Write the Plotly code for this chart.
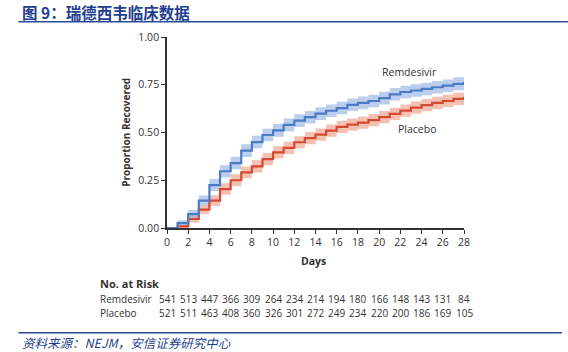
import plotly.graph_objects as go

days = list(range(0, 29))
remdesivir = [0, 0.026, 0.073, 0.143, 0.225, 0.297, 0.34, 0.405, 0.45, 0.487, 0.511, 0.54, 0.562, 0.58,
              0.599, 0.614, 0.628, 0.645, 0.655, 0.665, 0.68, 0.70, 0.712, 0.72, 0.728, 0.737, 0.745, 0.755, 0.764]
rem_lo = [0, 0.012, 0.052, 0.116, 0.194, 0.265, 0.307, 0.372, 0.417, 0.454, 0.478, 0.507, 0.529, 0.547,
          0.566, 0.581, 0.595, 0.612, 0.622, 0.632, 0.647, 0.667, 0.679, 0.687, 0.695, 0.704, 0.712, 0.721, 0.730]
rem_hi = [0, 0.040, 0.094, 0.170, 0.257, 0.329, 0.373, 0.438, 0.483, 0.520, 0.544, 0.573, 0.595, 0.613,
          0.632, 0.647, 0.661, 0.678, 0.688, 0.698, 0.713, 0.733, 0.745, 0.753, 0.761, 0.770, 0.778, 0.789, 0.798]
placebo = [0, 0.009, 0.047, 0.096, 0.143, 0.204, 0.25, 0.291, 0.323, 0.361, 0.396, 0.419, 0.449, 0.471,
           0.489, 0.51, 0.529, 0.541, 0.552, 0.565, 0.58, 0.598, 0.615, 0.63, 0.643, 0.655, 0.665, 0.676, 0.686]
pla_lo = [0, 0.001, 0.029, 0.072, 0.115, 0.174, 0.219, 0.260, 0.291, 0.329, 0.364, 0.387, 0.417, 0.439,
          0.457, 0.478, 0.497, 0.509, 0.520, 0.533, 0.548, 0.566, 0.583, 0.598, 0.611, 0.623, 0.633, 0.644, 0.654]
pla_hi = [0, 0.017, 0.065, 0.120, 0.171, 0.234, 0.281, 0.322, 0.355, 0.393, 0.428, 0.451, 0.481, 0.503,
          0.521, 0.542, 0.561, 0.573, 0.584, 0.597, 0.612, 0.630, 0.647, 0.662, 0.675, 0.687, 0.697, 0.708, 0.718]

risk_days = list(range(0, 29, 2))
risk_rem = [541, 513, 447, 366, 309, 264, 234, 214, 194, 180, 166, 148, 143, 131, 84]
risk_pla = [521, 511, 463, 408, 360, 326, 301, 272, 249, 234, 220, 200, 186, 169, 105]

y_ticks = [0, 0.25, 0.5, 0.75, 1.0]
x_ticks = list(range(0, 29, 2))

BLUE = "#4a7bc4"
BLUE_BAND = "rgba(150,180,228,0.65)"
RED = "#d34b33"
RED_BAND = "rgba(240,160,138,0.65)"
TXT = "#333333"
FONT = "Open Sans"
NAVY = "#1f3f8f"

fig = go.Figure()

def band(lo, hi, color):
    fig.add_trace(go.Scatter(x=days, y=lo, mode="lines", line=dict(width=0, shape="hv"),
                             hoverinfo="skip", showlegend=False))
    fig.add_trace(go.Scatter(x=days, y=hi, mode="lines", line=dict(width=0, shape="hv"),
                             fill="tonexty", fillcolor=color, hoverinfo="skip", showlegend=False))

band(pla_lo, pla_hi, RED_BAND)
band(rem_lo, rem_hi, BLUE_BAND)
fig.add_trace(go.Scatter(x=days, y=placebo, mode="lines", line=dict(color=RED, width=2.2, shape="hv"),
                         name="Placebo", showlegend=False))
fig.add_trace(go.Scatter(x=days, y=remdesivir, mode="lines", line=dict(color=BLUE, width=2.2, shape="hv"),
                         name="Remdesivir", showlegend=False))

fig.update_xaxes(range=[0, 28], tickvals=x_ticks, ticks="outside", ticklen=4, tickcolor=TXT,
                 showline=True, linecolor=TXT, linewidth=1.5, showgrid=False, zeroline=False,
                 tickfont=dict(family=FONT, size=10.5, color=TXT))
fig.update_yaxes(range=[0, 1], tickvals=y_ticks, tickformat=".2f", ticks="outside", ticklen=4, tickcolor=TXT,
                 showline=True, linecolor=TXT, linewidth=1.5, showgrid=False, zeroline=False,
                 tickfont=dict(family=FONT, size=10.5, color=TXT))

L, R, T, B = 166.7, 464.0, 37.3, 228.3
W, H = 568, 352

def px(x):
    return (x - L) / (R - L)

def py(y):
    return (B - y) / (B - T)

def note(text, x, y, size=10, color=TXT, family=FONT, xanchor="center", xref="paper", yref="paper", **kw):
    return dict(text=text, x=x, y=y, xref=xref, yref=yref, xanchor=xanchor, yanchor="middle",
                showarrow=False, font=dict(family=family, size=size, color=color), **kw)

ann = []
ann.append(note("Remdesivir", 22.9, 0.818, size=10.5, xref="x", yref="y"))
ann.append(note("Placebo", 23.6, 0.52, size=10.5, xref="x", yref="y"))
ann.append(note("<b>Proportion Recovered</b>", px(125), 0.5, size=10, textangle=-90))
ann.append(note("<b>Days</b>", px(313), py(261), size=10.5))
ann.append(note("<b>No. at Risk</b>", px(98), py(284), size=11, xanchor="left"))
ann.append(note("Remdesivir", px(98), py(299), size=10, xanchor="left"))
ann.append(note("Placebo", px(98), py(313), size=10, xanchor="left"))
for d, a, b in zip(risk_days, risk_rem, risk_pla):
    ann.append(note(str(a), d, py(299), size=10, xref="x"))
    ann.append(note(str(b), d, py(313), size=10, xref="x"))
ann.append(note("<b>图 9：瑞德西韦临床数据</b>", px(20), py(12), size=15.5, color=NAVY,
                family="Noto Sans CJK SC", xanchor="left"))
ann.append(note("<i>资料来源：NEJM，安信证券研究中心</i>", px(20), py(343), size=12.5, color=NAVY,
                family="Noto Sans CJK SC", xanchor="left"))

shapes = [
    dict(type="line", xref="paper", yref="paper", x0=px(18), x1=px(568), y0=py(22), y1=py(22),
         line=dict(color="#2a4a9a", width=1.5)),
    dict(type="line", xref="paper", yref="paper", x0=px(18), x1=px(562), y0=py(333), y1=py(333),
         line=dict(color="#2a4a9a", width=1.5)),
]

fig.update_layout(width=W, height=H, margin=dict(l=L, r=W - R, t=T, b=H - B),
                  paper_bgcolor="white", plot_bgcolor="white", annotations=ann, shapes=shapes,
                  showlegend=False)

fig.write_html("out.html")
